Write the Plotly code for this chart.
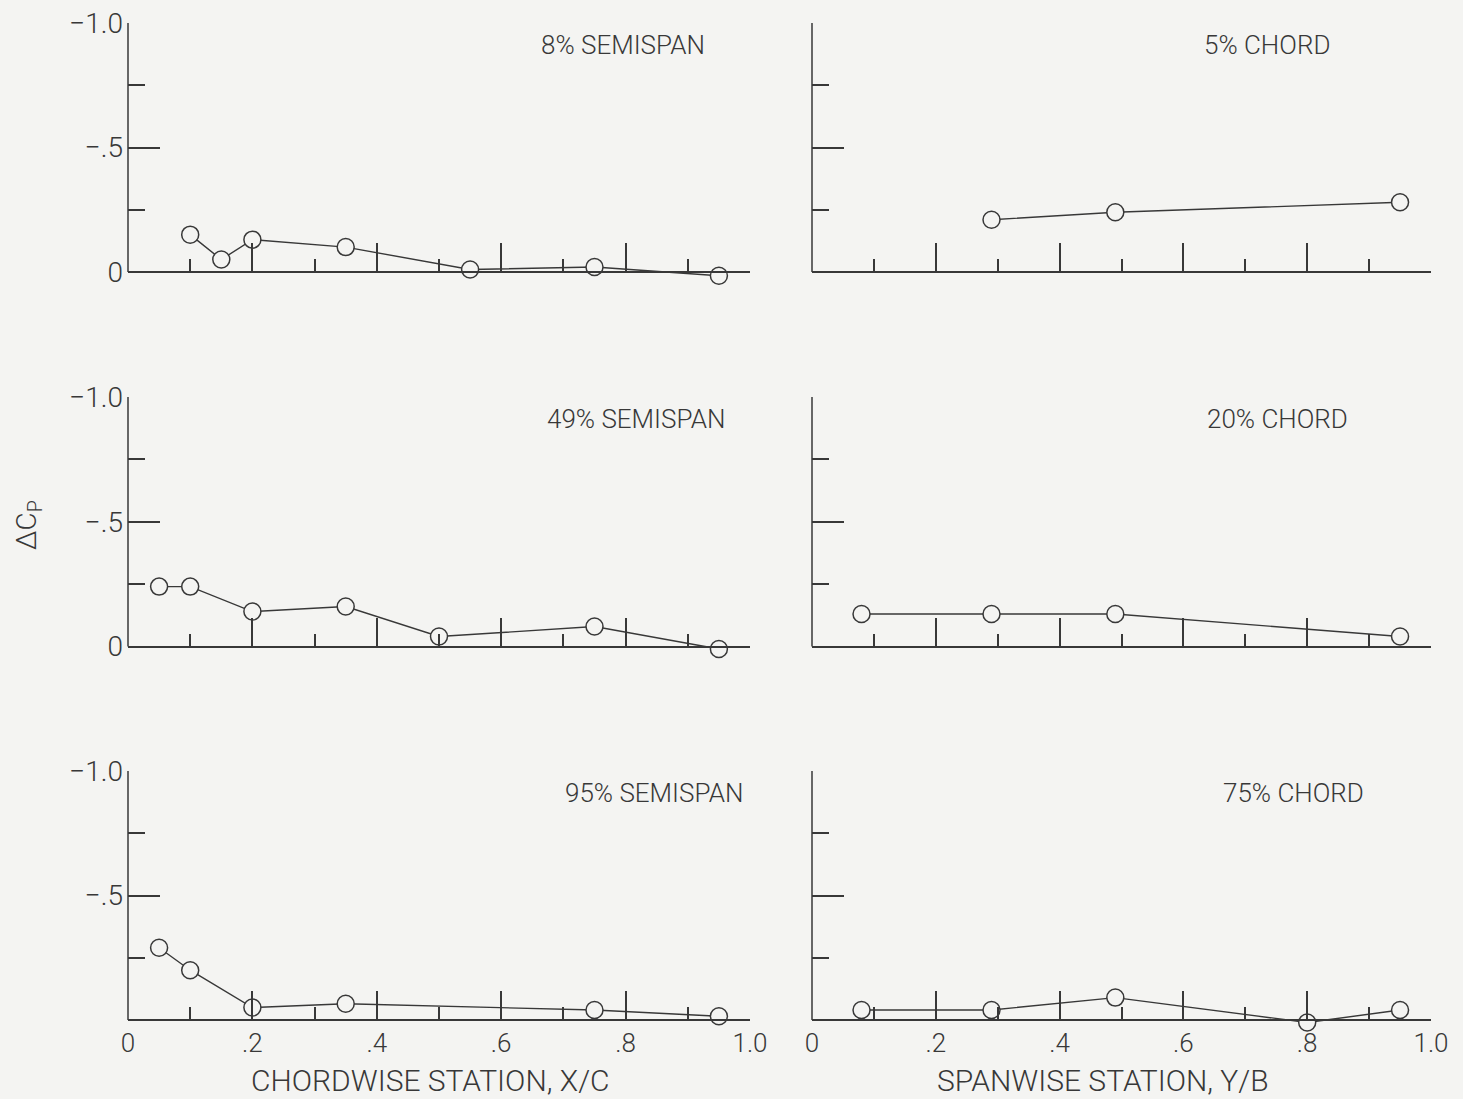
import plotly.graph_objects as go

# Chordwise pressure-difference distributions at three semispan stations
x_chord_8 = [0.10, 0.15, 0.20, 0.35, 0.55, 0.75, 0.95]
dcp_8 = [-0.15, -0.05, -0.13, -0.10, -0.01, -0.02, 0.015]

x_chord_49 = [0.05, 0.10, 0.20, 0.35, 0.50, 0.75, 0.95]
dcp_49 = [-0.24, -0.24, -0.14, -0.16, -0.04, -0.08, 0.01]

x_chord_95 = [0.05, 0.10, 0.20, 0.35, 0.75, 0.95]
dcp_95 = [-0.29, -0.20, -0.05, -0.065, -0.04, -0.015]

# Spanwise distributions at three chord stations
y_span_5 = [0.29, 0.49, 0.95]
dcp_5 = [-0.21, -0.24, -0.28]

y_span_20 = [0.08, 0.29, 0.49, 0.95]
dcp_20 = [-0.13, -0.13, -0.13, -0.04]

y_span_75 = [0.08, 0.29, 0.49, 0.80, 0.95]
dcp_75 = [-0.04, -0.04, -0.09, 0.01, -0.04]

panel_titles = ["8% SEMISPAN", "5% CHORD", "49% SEMISPAN", "20% CHORD",
                "95% SEMISPAN", "75% CHORD"]
x_tick_vals = [0, 0.2, 0.4, 0.6, 0.8, 1.0]
x_tick_text = ["0", ".2", ".4", ".6", ".8", "1.0"]
x_minor_vals = [0.1, 0.3, 0.5, 0.7, 0.9]
y_tick_vals = [0, -0.5, -1.0]
y_tick_text = ["0", "\u2212.5", "\u22121.0"]
y_minor_vals = [-0.25, -0.75]
x_titles = ["CHORDWISE STATION, X/C", "SPANWISE STATION, Y/B"]
y_title = "ΔC<sub>P</sub>"

INK = "#383838"
BG = "#f4f4f2"
FONT = "Roboto"
W, H = 1463, 1099
Y_PAD = 0.05  # room below the zero line so points just under it stay visible

series = [(x_chord_8, dcp_8), (y_span_5, dcp_5),
          (x_chord_49, dcp_49), (y_span_20, dcp_20),
          (x_chord_95, dcp_95), (y_span_75, dcp_75)]

# panel placement in pixels: (left, right) columns, (top, zero line) rows
cols_px = [(128, 750), (812, 1431)]
rows_px = [(23, 272), (397, 646.5), (771, 1020)]
title_right = [0.931, 0.84, 0.963, 0.869, 0.992, 0.895]

fig = go.Figure()
layout = {}
annotations = []
shapes = []

for i, (xs, ys) in enumerate(series):
    r, c = divmod(i, 2)
    n = i + 1
    xname = "xaxis" if n == 1 else f"xaxis{n}"
    yname = "yaxis" if n == 1 else f"yaxis{n}"
    xref = "x" if n == 1 else f"x{n}"
    yref = "y" if n == 1 else f"y{n}"

    fig.add_trace(go.Scatter(
        x=xs, y=ys, xaxis=xref, yaxis=yref, mode="lines+markers",
        line=dict(color=INK, width=1.4),
        marker=dict(symbol="circle", size=17, color=BG,
                    line=dict(color=INK, width=1.5)),
        cliponaxis=False, showlegend=False, hoverinfo="skip"))

    x0, x1 = cols_px[c]
    top, base = rows_px[r]
    unit = base - top
    dom_bottom = base + Y_PAD * unit
    bottom_row = r == 2
    layout[xname] = dict(
        domain=[x0 / W, x1 / W], anchor="free", position=1 - base / H,
        range=[0, 1.0], automargin=False,
        showgrid=False, zeroline=False, showline=True,
        linecolor=INK, linewidth=1.5,
        ticks="inside", ticklen=28, tickwidth=1.5, tickcolor=INK,
        tickvals=x_tick_vals, ticktext=x_tick_text,
        showticklabels=bottom_row, ticklabelstandoff=0,
        minor=dict(tickvals=x_minor_vals, ticks="inside", ticklen=12,
                   tickwidth=1.5, tickcolor=INK),
        tickfont=dict(family=FONT, size=26, color=INK, weight=300),
    )
    if c == 0 and r < 2:
        yvals, ytext = y_tick_vals, y_tick_text
    else:
        yvals, ytext = y_tick_vals[1:], y_tick_text[1:]
    layout[yname] = dict(
        domain=[1 - dom_bottom / H, 1 - top / H], anchor=xref,
        range=[Y_PAD, -1.0], automargin=False,
        showgrid=False, zeroline=False, showline=False,
        ticks="inside", ticklen=32, tickwidth=1.5, tickcolor=INK,
        tickvals=yvals, ticktext=ytext,
        showticklabels=(c == 0), ticklabelstandoff=4,
        minor=dict(tickvals=y_minor_vals, ticks="inside", ticklen=17,
                   tickwidth=1.5, tickcolor=INK),
        tickfont=dict(family=FONT, size=28, color=INK, weight=300),
    )
    # vertical axis line from the zero line up to the top of the scale
    shapes.append(dict(
        type="line", xref=f"{xref} domain", yref=yref,
        x0=0, x1=0, y0=0, y1=-1.0,
        line=dict(color=INK, width=1.5), layer="above"))

    annotations.append(dict(
        text=panel_titles[i], xref=f"{xref} domain", yref="paper",
        x=title_right[i], y=1 - (top + 0.09 * unit) / H,
        xanchor="right", yanchor="middle", showarrow=False,
        font=dict(family=FONT, size=26, color=INK, weight=300)))

# axis titles under the bottom row and the shared ordinate label
annotations.append(dict(
    text=x_titles[0], xref="x5 domain", yref="paper", x=0.486, y=1 - 1080 / H,
    xanchor="center", yanchor="middle", showarrow=False,
    font=dict(family=FONT, size=30, color=INK, weight=300)))
annotations.append(dict(
    text=x_titles[1], xref="x6 domain", yref="paper", x=0.470, y=1 - 1080 / H,
    xanchor="center", yanchor="middle", showarrow=False,
    font=dict(family=FONT, size=30, color=INK, weight=300)))
annotations.append(dict(
    text=y_title, xref="paper", yref="paper", x=28 / W, y=1 - 525 / H,
    xanchor="center", yanchor="middle", textangle=-90, showarrow=False,
    font=dict(family=FONT, size=28, color=INK, weight=300)))

fig.update_layout(
    width=W, height=H,
    margin=dict(l=0, r=0, t=0, b=0, pad=0, autoexpand=False),
    paper_bgcolor=BG, plot_bgcolor=BG,
    annotations=annotations, shapes=shapes, **layout)

fig.write_html("out.html", include_plotlyjs=True)
